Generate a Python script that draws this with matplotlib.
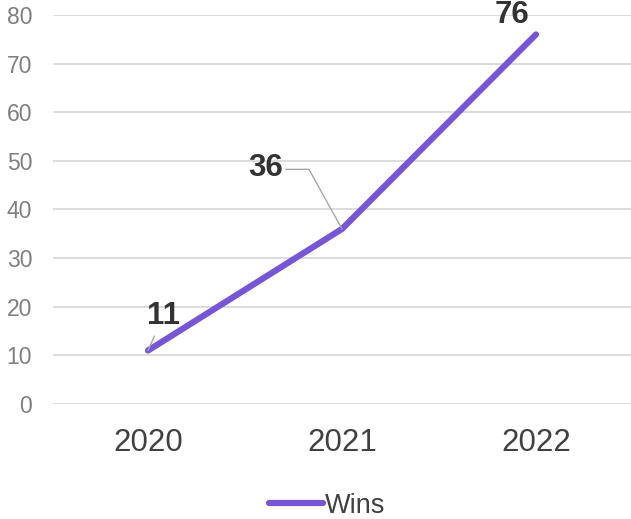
import matplotlib.pyplot as plt

# data
years = ["2020", "2021", "2022"]
wins = [11, 36, 76]
label_offsets = [(11, 25), (-55, 44), (-17, 14)]  # in points
yticks = [0, 10, 20, 30, 40, 50, 60, 70, 80]

plt.rcParams['font.family'] = ['Liberation Sans', 'DejaVu Sans']

fig = plt.figure(figsize=(6.31, 5.19), dpi=100)
ax = fig.add_axes([0.084, 0.2216, 0.916, 0.7495])

x = list(range(len(years)))
ax.plot(x, wins, color="#7756D6", linewidth=4.5, solid_capstyle="round",
        solid_joinstyle="round", label="Wins", zorder=3)

ax.set_xlim(-0.49, 2.49)
ax.set_ylim(0, 80)
ax.set_yticks(yticks)
ax.set_xticks(x)
ax.set_xticklabels(years)
ax.grid(axis="y", color="#D9D9D9", linewidth=1.3)
ax.set_axisbelow(True)
for s in ax.spines.values():
    s.set_visible(False)
ax.tick_params(axis="y", length=0, pad=15, labelsize=16.5, labelcolor="#7F7F7F")
ax.tick_params(axis="x", length=0, pad=17, labelsize=22.5, labelcolor="#404040")

# data labels
for i, (v, off) in enumerate(zip(wins, label_offsets)):
    arrow = None
    if i == 0:
        arrow = dict(arrowstyle="-", color="#A6A6A6", lw=1, shrinkA=2, shrinkB=0)
    elif i == 1:
        arrow = dict(arrowstyle="-", color="#A6A6A6", lw=1, shrinkA=0, shrinkB=0,
                     connectionstyle="angle,angleA=0,angleB=119,rad=0",
                     relpos=(1.08, 0.45))
    ax.annotate(str(v), xy=(i, v), xytext=off, textcoords="offset points",
                ha="center", va="center", fontsize=22.5, fontweight="bold",
                color="#333333", arrowprops=arrow, annotation_clip=False,
                zorder=4)

fig.legend(loc="center", bbox_to_anchor=(0.518, 0.026), frameon=False,
           fontsize=19.5, handlelength=2.0, handletextpad=0.05,
           borderpad=0.1, labelcolor="#404040")

fig.savefig("out.png", dpi=100)
